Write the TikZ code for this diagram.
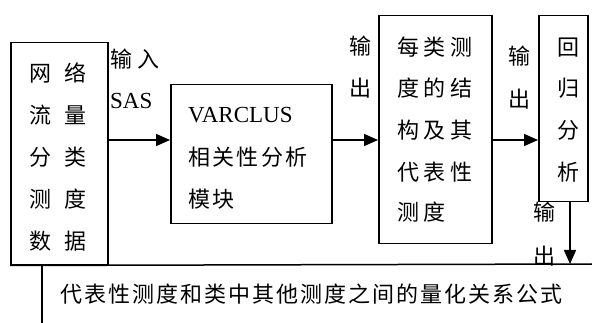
\documentclass[tikz,border=0pt]{standalone}
\usepackage{fontspec}
\setmainfont{Liberation Serif}
\newfontfamily\cjk{Noto Sans CJK SC}
\usetikzlibrary{arrows.meta}
\tikzset{
  box/.style={draw, line width=1.5pt, inner sep=0pt},
  zh/.style={inner sep=0pt, font=\cjk\fontsize{22}{22}\selectfont},
  lat/.style={inner sep=0pt, font=\fontsize{23}{23}\selectfont},
  conn/.style={line width=1.5pt},
  arr/.style={line width=1.5pt, -{Triangle[length=14pt,width=12pt]}},
}
\begin{document}
\begin{tikzpicture}[x=1pt,y=-1pt]
\useasboundingbox (0,0) rectangle (592,323);
% boxes
\node[box, minimum width=97pt, minimum height=222pt, anchor=north west] (b1) at (10,42) {};
\node[box, minimum width=161pt, minimum height=139pt, anchor=north west] (b2) at (170,84) {};
\node[box, minimum width=113pt, minimum height=228pt, anchor=north west] (b3) at (378,15) {};
\node[box, minimum width=49pt, minimum height=186pt, anchor=north west] (b4) at (538,15) {};
% box1 text
\node[zh] (t11) at (58,73) {网\kern14pt络};
\node[zh] (t12) at (58,115) {流\kern14pt量};
\node[zh] (t13) at (58,157) {分\kern14pt类};
\node[zh] (t14) at (58,199) {测\kern14pt度};
\node[zh] (t15) at (58,241) {数\kern14pt据};
% box2 text
\node[lat, anchor=base west] (t21) at (188,123) {VARCLUS};
\node[zh, anchor=west] (t22) at (188,157) {相\kern2.4pt关\kern2.4pt性\kern2.4pt分\kern2.4pt析};
\node[zh, anchor=west] (t23) at (188,199) {模\kern2.4pt块};
% box3 text
\node[zh, anchor=west] (t31) at (397,47) {每\kern4.7pt类\kern4.7pt测};
\node[zh, anchor=west] (t32) at (397,88) {度\kern4.7pt的\kern4.7pt结};
\node[zh, anchor=west] (t33) at (397,130) {构\kern4.7pt及\kern4.7pt其};
\node[zh, anchor=west] (t34) at (397,172) {代\kern4.7pt表\kern4.7pt性};
\node[zh, anchor=west] (t35) at (397,212) {测\kern4.7pt度};
% box4 text
\node[zh] (t41) at (568,48) {回};
\node[zh] (t42) at (568,88) {归};
\node[zh] (t43) at (568,130) {分};
\node[zh] (t44) at (568,172) {析};
% labels
\node[zh] (l1) at (135,59) {输\kern5pt入};
\node[lat, anchor=base west] (l2) at (110,109) {SAS};
\node[zh] (l3a) at (360,46) {输};
\node[zh] (l3b) at (360,88) {出};
\node[zh] (l4a) at (519,56) {输};
\node[zh] (l4b) at (519,99) {出};
\node[zh] (l5a) at (544,212) {输};
\node[zh] (l5b) at (544,256) {出};
% connectors
\draw[arr] (b1.east |- 0,140) -- (b2.west |- 0,140);
\draw[arr] (b2.east |- 0,140) -- (b3.west |- 0,140);
\draw[arr] (b3.east |- 0,140) -- (b4.west |- 0,140);
\coordinate (r) at (592,264);
\coordinate (d) at (570,264);
\draw[arr] (b4.south -| d) -- (d);
\draw[conn] (b1.south west) -- (r);
\coordinate (v1) at (42,264);
\coordinate (v2) at (42,323);
\draw[conn] (v1) -- (v2);
\node[zh, anchor=west] (bt) at (60,294) {代\kern2pt表\kern2pt性\kern2pt测\kern2pt度\kern2pt和\kern2pt类\kern2pt中\kern2pt其\kern2pt他\kern2pt测\kern2pt度\kern2pt之\kern2pt间\kern2pt的\kern2pt量\kern2pt化\kern2pt关\kern2pt系\kern2pt公\kern2pt式};
\end{tikzpicture}
\end{document}
